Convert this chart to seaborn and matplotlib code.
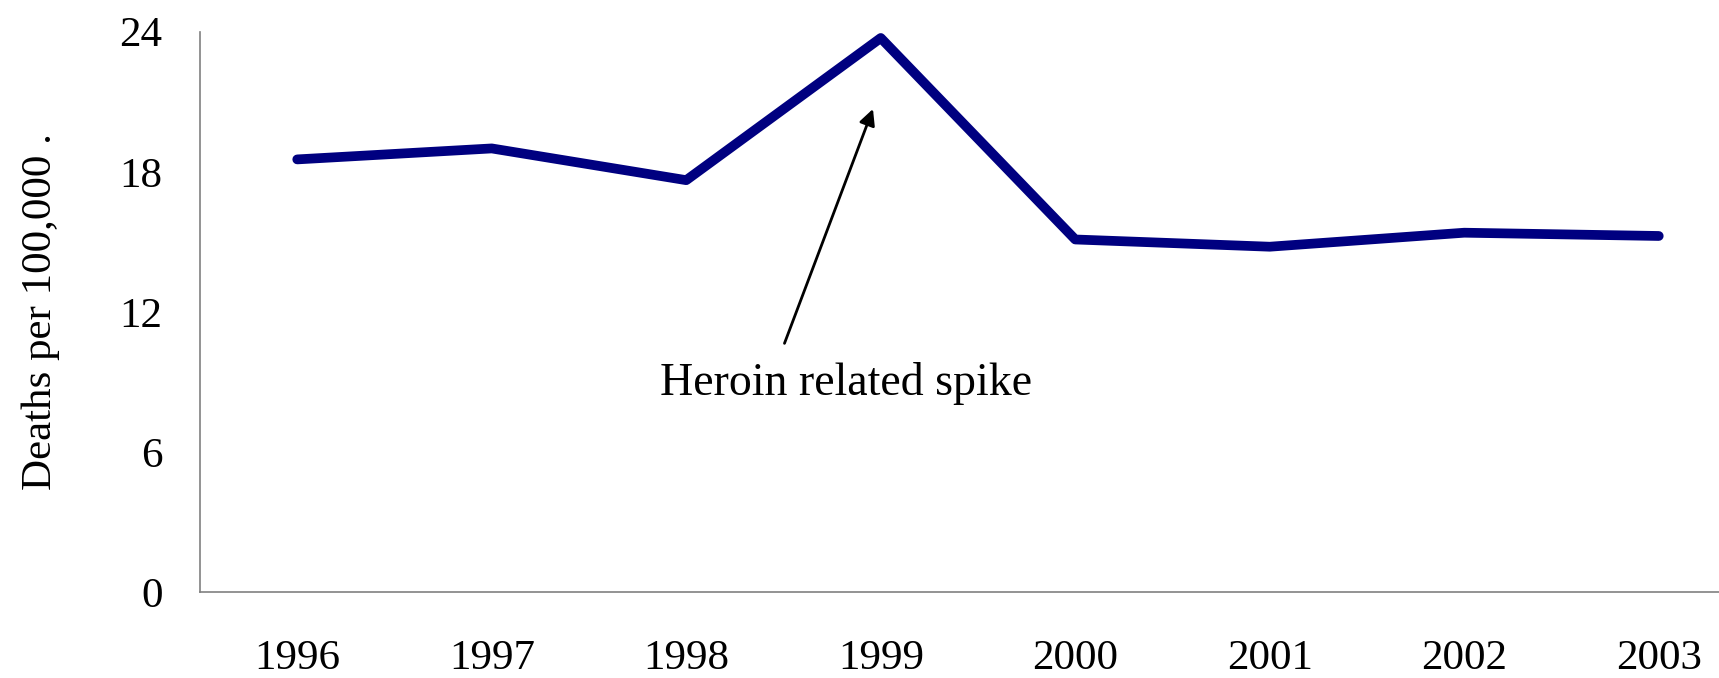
import pandas as pd
import seaborn as sns
import matplotlib.pyplot as plt

years = ['1996', '1997', '1998', '1999', '2000', '2001', '2002', '2003']
deaths = [18.53, 19.0, 17.64, 23.73, 15.10, 14.79, 15.39, 15.25]
y_ticks = [0, 6, 12, 18, 24]

data = pd.DataFrame({'year': years, 'deaths': deaths})
data['pos'] = range(len(years))

sns.set_style('white')
plt.rcParams['font.family'] = ['Liberation Serif', 'DejaVu Serif']
plt.rcParams['text.color'] = 'black'
plt.rcParams['xtick.color'] = 'black'
plt.rcParams['ytick.color'] = 'black'
plt.rcParams['axes.labelcolor'] = 'black'

fig = plt.figure(figsize=(17.19, 6.78), dpi=100)
ax = fig.add_axes([200 / 1719, 86 / 678, 1556 / 1719, 560.3 / 678])

sns.lineplot(data=data, x='pos', y='deaths', color='#000080', linewidth=7,
             solid_capstyle='round', solid_joinstyle='round', ax=ax)

# annotation for the 1999 peak
ax.annotate('', xy=(2.96, 20.69), xytext=(2.505, 10.65),
            arrowprops=dict(arrowstyle='-|>', color='black', lw=2,
                            mutation_scale=24, shrinkA=0, shrinkB=0))
ax.text(2.82, 8.44, 'Heroin related spike', fontsize=33,
        ha='center', va='baseline')

ax.set_xlim(-0.5, 7.5)
ax.set_ylim(0, 24)
ax.set_xticks(data['pos'])
ax.set_xticklabels(years)
ax.set_yticks(y_ticks)
ax.tick_params(axis='x', length=0, pad=34, labelsize=31)
ax.tick_params(axis='y', length=0, pad=27, labelsize=31)
ax.set_xlabel('')
ax.set_ylabel('Deaths per 100,000 .', fontsize=31, labelpad=43)

for side in ['top', 'right']:
    ax.spines[side].set_visible(False)
for side in ['left', 'bottom']:
    ax.spines[side].set_color('#808080')
    ax.spines[side].set_linewidth(1.2)

fig.savefig('out.png', dpi=100)
